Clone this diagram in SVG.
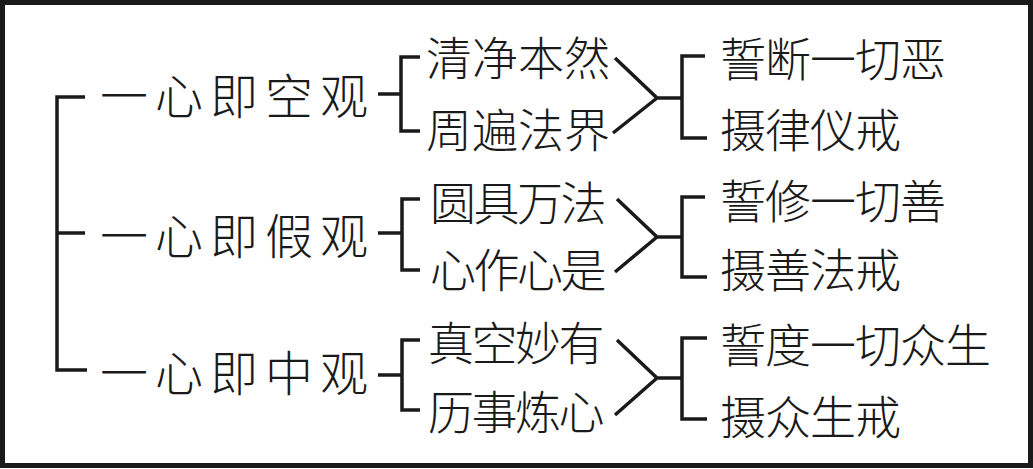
<svg xmlns="http://www.w3.org/2000/svg" width="1033" height="469" viewBox="0 0 1033 469">
<style>
text{font-family:"Noto Sans CJK SC","Noto Sans CJK TC",sans-serif;font-weight:300;fill:#1a1a1a;}
.l1{font-size:48px;letter-spacing:7px;}
.l2{font-size:46px;letter-spacing:0px;}
.l2b{font-size:46px;letter-spacing:-2.5px;}
.l3{font-size:46px;letter-spacing:-1px;}
.c path{fill:none;stroke:#1a1a1a;stroke-width:3.5;stroke-linejoin:miter;stroke-linecap:butt;}
</style>
<rect x="2.5" y="2.5" width="1028" height="463" fill="#ffffff" stroke="#1a1a1a" stroke-width="5"/>
<g class="c" id="connectors">
<path d="M85,97 H57 V370 H87 M57,233 H85"/>
<path d="M378,94 H401 M420,57 H401 V131 H420"/>
<path d="M615,58 L657,98 L613,133 M657,98 H682 M705,56 H682 V138 H707"/>
<path d="M378,233 H402 M420,199 H402 V270 H420"/>
<path d="M617,199 L657,237 L615,272 M657,237 H682 M705,197 H682 V277 H707"/>
<path d="M378,375 H402 M420,340 H402 V410 H420"/>
<path d="M617,340 L657,378 L615,415 M657,378 H682 M707,338 H682 V419 H707"/>
</g>
<g id="n-kong"><text class="l1" x="100" y="114">一心即空观</text></g>
<g id="n-jia"><text class="l1" x="100" y="254">一心即假观</text></g>
<g id="n-zhong"><text class="l1" x="100" y="391">一心即中观</text></g>
<g id="n-qingjing"><text class="l2" x="426" y="75">清净本然</text></g>
<g id="n-zhoubian"><text class="l2" x="426" y="147">周遍法界</text></g>
<g id="n-yuanju"><text class="l2b" x="430" y="220">圆具万法</text></g>
<g id="n-xinzuo"><text class="l2b" x="430" y="287">心作心是</text></g>
<g id="n-zhenkong"><text class="l2b" x="428" y="360">真空妙有</text></g>
<g id="n-lishi"><text class="l2b" x="428" y="429">历事炼心</text></g>
<g id="n-shiduan"><text class="l3" x="720" y="76">誓断一切恶</text></g>
<g id="n-shelv"><text class="l3" x="720" y="147">摄律仪戒</text></g>
<g id="n-shixiu"><text class="l3" x="720" y="218">誓修一切善</text></g>
<g id="n-sheshan"><text class="l3" x="720" y="287">摄善法戒</text></g>
<g id="n-shidu"><text class="l3" x="720" y="362">誓度一切众生</text></g>
<g id="n-shezhong"><text class="l3" x="720" y="434">摄众生戒</text></g>
</svg>
